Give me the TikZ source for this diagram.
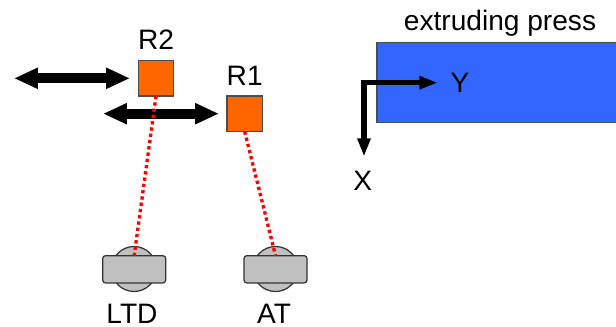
\documentclass[tikz,border=0pt]{standalone}
\usepackage{fontspec}
\setmainfont{Liberation Sans}
\usetikzlibrary{arrows.meta, positioning, calc}

\tikzset{
  lbl/.style={font=\fontsize{8}{9.6}\selectfont, inner sep=0pt},
  robot/.style={draw=black!70, line width=0.4pt, fill=orange1, minimum size=0.355cm, inner sep=0pt, outer sep=0pt},
  travel/.style={line width=2.95pt, {Triangle[length=6.8pt,width=5.6pt]}-{Triangle[length=6.8pt,width=5.6pt]}},
  beam/.style={red, line width=0.95pt, dash pattern=on 0.95pt off 0.85pt},
  disk/.style={circle, draw=black!80, line width=0.35pt, fill=gray1, minimum size=0.45cm, inner sep=0pt, outer sep=0pt},
  sensor/.style={rectangle, rounded corners=0.8pt, draw=black!80, line width=0.35pt, fill=gray1, minimum width=0.63cm, minimum height=0.273cm, inner sep=0pt, outer sep=0pt},
  axis/.style={line width=1.55pt, {Triangle[length=5.2pt,width=3.5pt]}-{Triangle[length=5.2pt,width=3.5pt]}}
}
\definecolor{orange1}{HTML}{FF6600}
\definecolor{gray1}{HTML}{C0C0C0}
\definecolor{blue1}{HTML}{3366FF}

\begin{document}
\begin{tikzpicture}
\useasboundingbox (0,0) rectangle (6.16,-3.27);

% extruding press
\node[draw=black!70, line width=0.35pt, fill=blue1, minimum width=2.45cm, minimum height=0.8cm, inner sep=0pt, outer sep=0pt] (press) at (4.995,-0.827) {};
\node[lbl] (presslabel) at (5.00,-0.235) {extruding press};

% axes
\coordinate (xend) at (3.64,-1.567);
\coordinate (yend) at (4.377,-0.827);
\draw[axis] (xend) |- (yend);
\node[lbl] (ylabel) at (4.60,-0.83) {Y};
\node[lbl] (xlabel) at (3.627,-1.81) {X};

% robots
\node[robot] (r2) at (1.56,-0.783) {};
\node[lbl, above=0.105cm of r2] (r2label) {R2};
\node[robot] (r1) at (2.447,-1.138) {};
\node[lbl, above=0.10cm of r1] (r1label) {R1};

% travel
\coordinate (r2left) at (0.14,-0.783);
\coordinate (r2right) at (1.30,-0.783);
\coordinate (r1left) at (1.03,-1.137);
\coordinate (r1right) at (2.19,-1.137);
\draw[travel] (r2left) -- (r2right);
\draw[travel] (r1left) -- (r1right);

% sensors
\node[disk] (ltddisk) at (1.34,-2.69) {};
\node[sensor] (ltd) at (1.342,-2.693) {};
\node[lbl] (ltdlabel) at (1.32,-3.14) {LTD};
\node[disk] (atdisk) at (2.755,-2.69) {};
\node[sensor] (at) at (2.755,-2.693) {};
\node[lbl] (atlabel) at (2.74,-3.14) {AT};

% beams
\draw[beam] (r2.south) -- (ltd.north);
\draw[beam] (r1.south) -- (at.north);
\end{tikzpicture}
\end{document}
